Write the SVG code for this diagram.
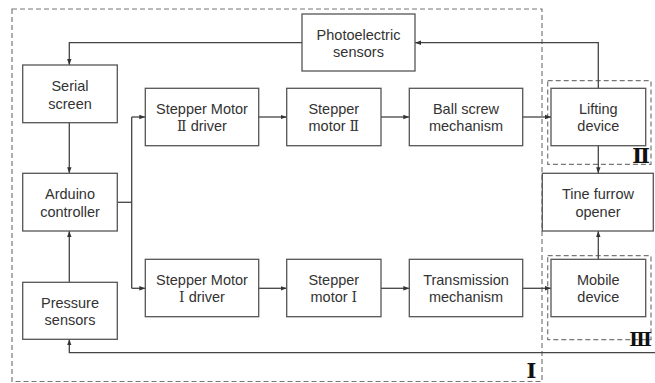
<svg xmlns="http://www.w3.org/2000/svg" width="655" height="383" viewBox="0 0 655 383">
<defs>
<marker id="ah" viewBox="0 0 6 6" refX="6" refY="3" markerWidth="6" markerHeight="6" markerUnits="userSpaceOnUse" orient="auto">
<path d="M0,0.8 L6,3 L0,5.2 Z" fill="#333"/>
</marker>
<style>
.box{fill:#fff;stroke:#555;stroke-width:1.3}
.dash{fill:none;stroke:#777;stroke-width:1.2;stroke-dasharray:5,3}
.t{font-family:"Liberation Sans",Arial,sans-serif;font-size:14.5px;fill:#333;text-anchor:middle}
.r{font-family:"DejaVu Serif","Noto Sans CJK SC",serif;font-size:21px;font-weight:bold;fill:#111;text-anchor:middle}
.n{font-family:"DejaVu Serif","Noto Sans CJK SC",serif;font-size:14px}
.c{fill:none;stroke:#444;stroke-width:1.3}
.ca{fill:none;stroke:#444;stroke-width:1.3;marker-end:url(#ah)}
</style>
</defs>
<g id="regions">
<rect class="dash" x="12" y="9" width="530" height="372.5"/>
<rect class="dash" x="547.7" y="80.7" width="103.3" height="83.6"/>
<rect class="dash" x="547.7" y="255.7" width="103.3" height="84"/>
<text class="r" x="531.5" y="378">Ⅰ</text>
<text class="r" x="641" y="163">Ⅱ</text>
<text class="r" x="640.5" y="345.5" style="font-size:18.5px">Ⅲ</text>
</g>
<g id="connectors">
<path class="ca" d="M302,42.7 H69.3 V65"/>
<path class="ca" d="M69.3,122.7 V173.3"/>
<path class="ca" d="M69.3,282.3 V231"/>
<path class="c" d="M117.3,202.3 H131.7"/>
<path class="ca" d="M131.7,117 V117 H145.3"/>
<path class="c" d="M131.7,117 V288.3"/>
<path class="ca" d="M131.7,288.3 H145.3"/>
<path class="ca" d="M258.7,117 H286.7"/>
<path class="ca" d="M381,117 H409.3"/>
<path class="ca" d="M522.7,117 H551"/>
<path class="ca" d="M258.7,288.3 H286.7"/>
<path class="ca" d="M381,288.3 H409.3"/>
<path class="ca" d="M522.7,288.3 H551"/>
<path class="ca" d="M598.3,88.3 V42.7 H415"/>
<path class="ca" d="M598.3,145.7 V173.3"/>
<path class="ca" d="M598.3,259.3 V231"/>
<path class="ca" d="M655,352.7 H69.3 V339.3"/>
</g>
<g id="photo">
<rect class="box" x="302" y="14" width="113" height="57"/>
<text class="t" x="358.5" y="39.5">Photoelectric</text>
<text class="t" x="358.5" y="57">sensors</text>
</g>
<g id="serial">
<rect class="box" x="22.7" y="65" width="94.6" height="57.7"/>
<text class="t" x="70" y="91">Serial</text>
<text class="t" x="70" y="108.5">screen</text>
</g>
<g id="arduino">
<rect class="box" x="22.7" y="173.3" width="94.6" height="57.7"/>
<text class="t" x="70" y="199">Arduino</text>
<text class="t" x="70" y="216.5">controller</text>
</g>
<g id="pressure">
<rect class="box" x="22.7" y="282.3" width="94.6" height="57"/>
<text class="t" x="70" y="307.5">Pressure</text>
<text class="t" x="70" y="325">sensors</text>
</g>
<g id="drv2">
<rect class="box" x="145.3" y="88.3" width="113.4" height="57.4"/>
<text class="t" x="202" y="113.5">Stepper Motor</text>
<text class="t" x="202" y="131"><tspan class="n">Ⅱ</tspan> driver</text>
</g>
<g id="mot2">
<rect class="box" x="286.7" y="88.3" width="94.3" height="57.4"/>
<text class="t" x="333.8" y="113.5">Stepper</text>
<text class="t" x="333.8" y="131">motor <tspan class="n">Ⅱ</tspan></text>
</g>
<g id="ball">
<rect class="box" x="409.3" y="88.3" width="113.4" height="57.4"/>
<text class="t" x="466" y="113.5">Ball screw</text>
<text class="t" x="466" y="131">mechanism</text>
</g>
<g id="lift">
<rect class="box" x="551" y="88.3" width="94.7" height="57.4"/>
<text class="t" x="598.3" y="113.5">Lifting</text>
<text class="t" x="598.3" y="131">device</text>
</g>
<g id="tine">
<rect class="box" x="542.3" y="173.3" width="111" height="57.7"/>
<text class="t" x="598" y="199">Tine furrow</text>
<text class="t" x="598" y="216.5">opener</text>
</g>
<g id="drv1">
<rect class="box" x="145.3" y="259.3" width="113.4" height="57.4"/>
<text class="t" x="202" y="284.5">Stepper Motor</text>
<text class="t" x="202" y="302"><tspan class="n">Ⅰ</tspan> driver</text>
</g>
<g id="mot1">
<rect class="box" x="286.7" y="259.3" width="94.3" height="57.4"/>
<text class="t" x="333.8" y="284.5">Stepper</text>
<text class="t" x="333.8" y="302">motor <tspan class="n">Ⅰ</tspan></text>
</g>
<g id="trans">
<rect class="box" x="409.3" y="259.3" width="113.4" height="57.4"/>
<text class="t" x="466" y="284.5">Transmission</text>
<text class="t" x="466" y="302">mechanism</text>
</g>
<g id="mobile">
<rect class="box" x="551" y="259.3" width="94.7" height="57.4"/>
<text class="t" x="598.3" y="284.5">Mobile</text>
<text class="t" x="598.3" y="302">device</text>
</g>
</svg>
